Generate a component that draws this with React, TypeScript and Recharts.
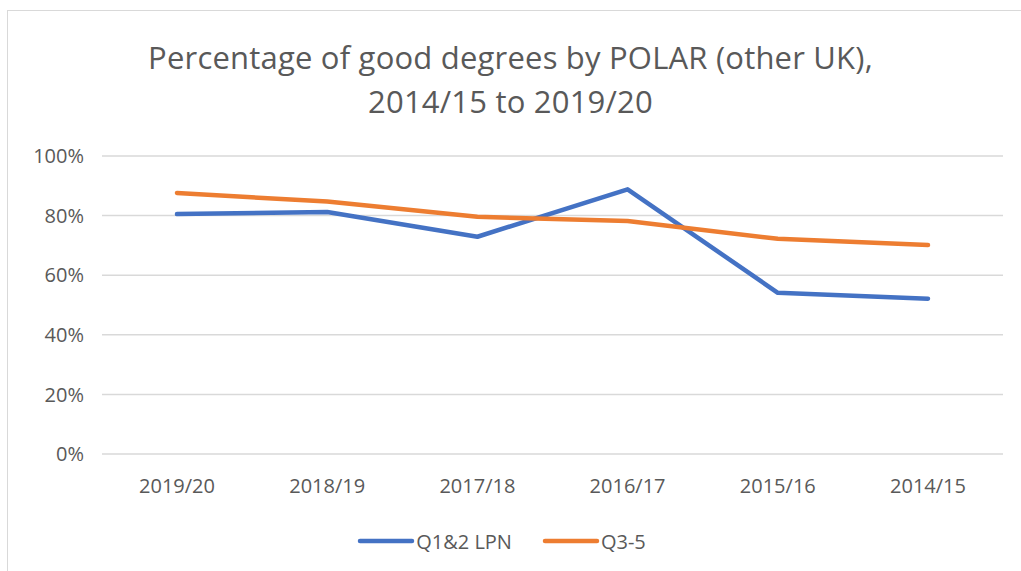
import React from 'react';
import { LineChart, Line, XAxis, YAxis, CartesianGrid, Legend } from 'recharts';

// academic years, newest first as in the source chart
const years = ['2019/20', '2018/19', '2017/18', '2016/17', '2015/16', '2014/15'];
const lpn = [80.5, 81.2, 72.9, 88.8, 54.1, 52.1];
const q35 = [87.6, 84.7, 79.6, 78.2, 72.2, 70.1];
const yTicks = [0, 20, 40, 60, 80, 100];

const seriesInfo = [
  { key: 'lpn', name: 'Q1&2 LPN', color: '#4472C4' },
  { key: 'q35', name: 'Q3-5', color: '#ED7D31' },
];

const data = years.map((year, i) => ({ year, lpn: lpn[i], q35: q35[i] }));

const FONT = '"Open Sans", "Liberation Sans", sans-serif';
const TEXT = '#595959';

function LegendBox() {
  return (
    <div style={{ height: 44, display: 'flex', justifyContent: 'center', alignItems: 'center', gap: 30, fontFamily: FONT, fontSize: 20, color: TEXT }}>
      {seriesInfo.map((s) => (
        <div key={s.key} style={{ display: 'flex', alignItems: 'center' }}>
          <svg width={58} height={10}>
            <line x1={3} y1={5} x2={55} y2={5} stroke={s.color} strokeWidth={4.5} strokeLinecap="round" />
          </svg>
          <span style={{ marginLeft: 1 }}>{s.name}</span>
        </div>
      ))}
    </div>
  );
}

export default function App() {
  return (
    <div style={{ position: 'absolute', left: 0, top: 0, width: 1021, height: 571, background: '#fff', overflow: 'hidden' }}>
      {/* chart frame, only top and left edge visible in the source */}
      <div style={{ position: 'absolute', left: 7, top: 10, width: 1030, height: 600, borderTop: '1.5px solid #d9d9d9', borderLeft: '1.5px solid #d9d9d9' }} />
      <div
        style={{
          position: 'absolute',
          left: 0,
          top: 35,
          width: 1021,
          textAlign: 'center',
          fontFamily: FONT,
          fontSize: 31,
          lineHeight: '44px',
          letterSpacing: 0.2,
          color: TEXT,
        }}
      >
        Percentage of good degrees by POLAR (other UK),
        <br />
        2014/15 to 2019/20
      </div>
      <LineChart width={1021} height={571} data={data} margin={{ top: 156, right: 18, left: 0, bottom: 8 }} style={{ position: 'absolute', left: 0, top: 0 }}>
        <CartesianGrid vertical={false} stroke="#d9d9d9" strokeWidth={1.5} />
        <XAxis
          dataKey="year"
          axisLine={false}
          tickLine={false}
          tickMargin={19}
          height={65}
          padding={{ left: 75, right: 75 }}
          tick={{ fill: TEXT, fontSize: 20, fontFamily: FONT }}
        />
        <YAxis
          width={102}
          domain={[0, 100]}
          ticks={yTicks}
          axisLine={false}
          tickLine={false}
          tickMargin={12}
          tickFormatter={(v) => `${v}%`}
          tick={{ fill: TEXT, fontSize: 20, fontFamily: FONT }}
        />
        <Legend verticalAlign="bottom" height={44} content={() => <LegendBox />} />
        {seriesInfo.map((s) => (
          <Line
            key={s.key}
            dataKey={s.key}
            name={s.name}
            stroke={s.color}
            strokeWidth={4.5}
            strokeLinecap="round"
            strokeLinejoin="round"
            dot={false}
            activeDot={false}
            isAnimationActive={false}
          />
        ))}
      </LineChart>
    </div>
  );
}
